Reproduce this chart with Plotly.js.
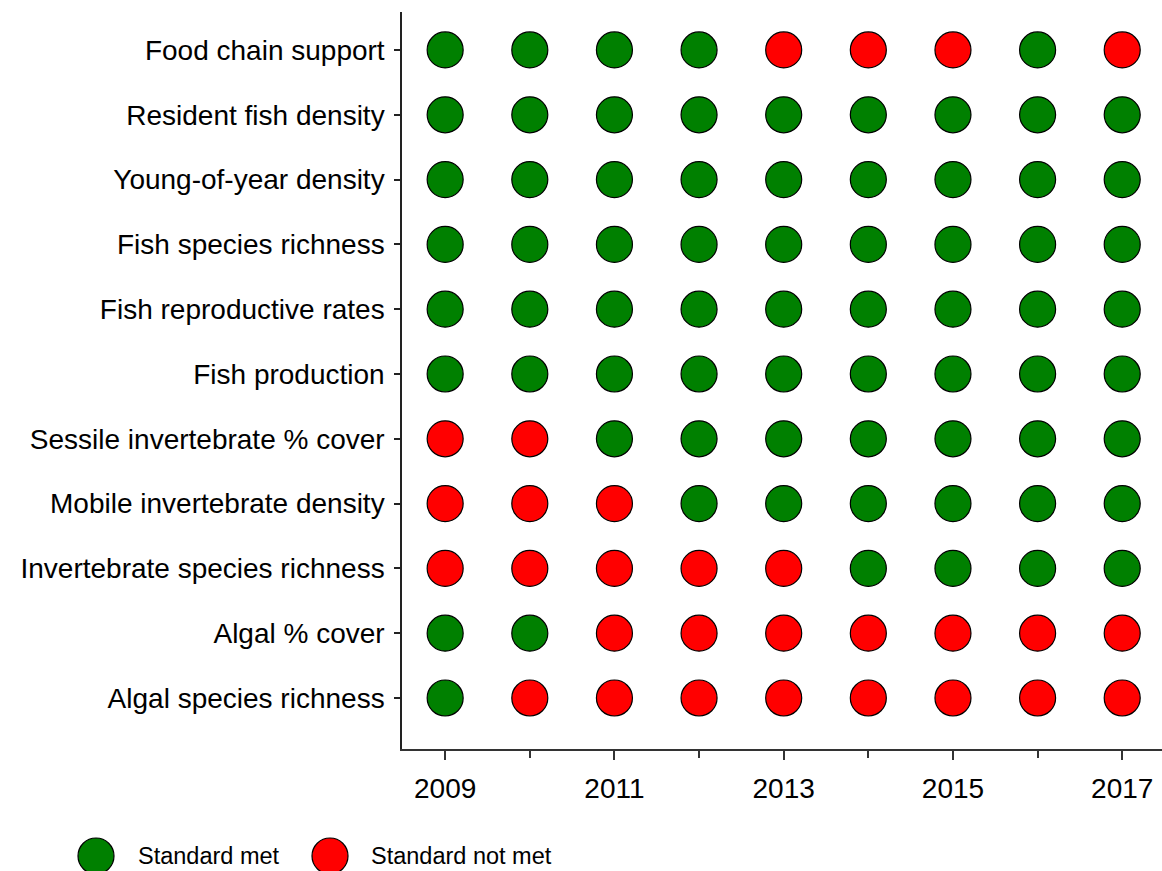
<!DOCTYPE html>
<html>
<head>
<meta charset="utf-8">
<script src="https://cdn.plot.ly/plotly-3.0.1.min.js"></script>
<style>html,body{margin:0;padding:0;background:#fff;}#chart{width:1162px;height:871px;}</style>
</head>
<body>
<div id="chart"></div>
<script>
// Indicators listed top to bottom as in the chart
const indicators = [
  "Food chain support",
  "Resident fish density",
  "Young-of-year density",
  "Fish species richness",
  "Fish reproductive rates",
  "Fish production",
  "Sessile invertebrate % cover",
  "Mobile invertebrate density",
  "Invertebrate species richness",
  "Algal % cover",
  "Algal species richness"
];
const years = [2009, 2010, 2011, 2012, 2013, 2014, 2015, 2016, 2017];
// 1 = standard met, 0 = standard not met (one row per indicator, columns = years)
const status = [
  [1,1,1,1,0,0,0,1,0],
  [1,1,1,1,1,1,1,1,1],
  [1,1,1,1,1,1,1,1,1],
  [1,1,1,1,1,1,1,1,1],
  [1,1,1,1,1,1,1,1,1],
  [1,1,1,1,1,1,1,1,1],
  [0,0,1,1,1,1,1,1,1],
  [0,0,0,1,1,1,1,1,1],
  [0,0,0,0,0,1,1,1,1],
  [1,1,0,0,0,0,0,0,0],
  [1,0,0,0,0,0,0,0,0]
];
const tickYears = [2009, 2011, 2013, 2015, 2017];
const legendLabels = ["Standard met", "Standard not met"];
const colors = ["#008000", "#ff0000"];

const metX = [], metY = [], notX = [], notY = [];
indicators.forEach((ind, i) => {
  years.forEach((yr, j) => {
    if (status[i][j] === 1) { metX.push(yr); metY.push(ind); }
    else { notX.push(yr); notY.push(ind); }
  });
});

const markerBase = {size: 36, line: {color: "#000", width: 1.2}};
const traces = [
  {x: metX, y: metY, type: "scatter", mode: "markers", name: legendLabels[0],
   marker: Object.assign({color: colors[0]}, markerBase), hoverinfo: "x+y+name"},
  {x: notX, y: notY, type: "scatter", mode: "markers", name: legendLabels[1],
   marker: Object.assign({color: colors[1]}, markerBase), hoverinfo: "x+y+name"}
];

const W = 1162, H = 871;
const mL = 402, mR = 0, mT = 12, mB = 122;
const pw = W - mL - mR, ph = H - mT - mB;
const px = X => (X - mL) / pw;
const py = Y => (H - mB - Y) / ph;

const legendPos = [{cx: 96, tx: 136}, {cx: 330, tx: 369}];
const legendY = 856;
const shapes = [], annotations = [];
legendLabels.forEach((lab, k) => {
  shapes.push({type: "circle", xref: "paper", yref: "paper",
    xsizemode: "pixel", ysizemode: "pixel",
    xanchor: px(legendPos[k].cx), yanchor: py(legendY),
    x0: -18, x1: 18, y0: -18, y1: 18,
    fillcolor: colors[k], line: {color: "#000", width: 1.2}});
  annotations.push({xref: "paper", yref: "paper", x: px(legendPos[k].tx), y: py(legendY),
    xanchor: "left", yanchor: "middle", showarrow: false, text: lab,
    font: {size: 23.5, color: "#000"}});
});

const layout = {
  width: W, height: H,
  margin: {l: mL, r: mR, t: mT, b: mB, pad: 0},
  paper_bgcolor: "#fff", plot_bgcolor: "#fff",
  font: {family: "Liberation Sans, Arial, sans-serif", color: "#000", size: 28},
  showlegend: false,
  xaxis: {
    range: [2008.49, 2017.47], tickvals: tickYears, ticktext: tickYears.map(String),
    ticks: "outside", ticklen: 9, tickwidth: 1.5, tickcolor: "#333",
    minor: {dtick: 1, tick0: 2009, ticks: "outside", ticklen: 7, tickwidth: 1.5, tickcolor: "#333"},
    showline: true, linecolor: "#333", linewidth: 1.5, showgrid: false, zeroline: false,
    tickfont: {size: 28}, ticklabelstandoff: 5
  },
  yaxis: {
    type: "category", categoryorder: "array", categoryarray: indicators.slice().reverse(),
    range: [-0.787, 10.586],
    ticks: "outside", ticklen: 6, tickwidth: 1.5, tickcolor: "#222",
    showline: true, linecolor: "#222", linewidth: 1.5, showgrid: false, zeroline: false,
    tickfont: {size: 28}, ticklabelstandoff: 4
  },
  shapes: shapes, annotations: annotations
};

Plotly.newPlot("chart", traces, layout, {displayModeBar: false, responsive: false});
</script>
</body>
</html>
